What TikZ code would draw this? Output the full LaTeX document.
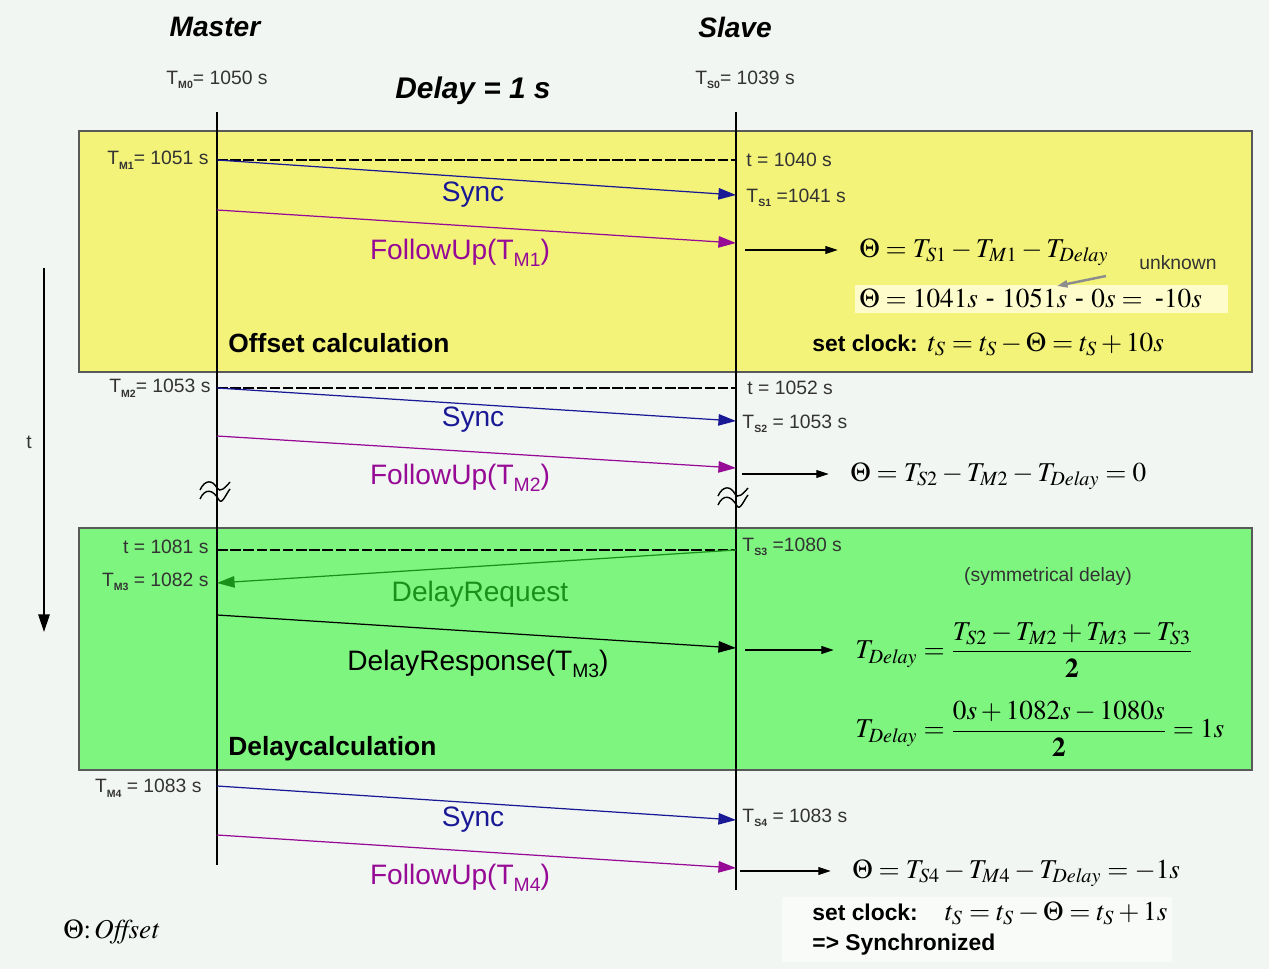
\documentclass[tikz,border=0pt]{standalone}
\usepackage{amsmath}
\usepackage{mathptmx}
\usepackage[no-math]{fontspec}
\setmainfont{Liberation Sans}
\usepackage{tikz}
\usetikzlibrary{arrows.meta,positioning}
\definecolor{bgcol}{RGB}{242,246,242}
\definecolor{offsetbox}{RGB}{243,243,122}
\definecolor{delaybox}{RGB}{126,245,126}
\definecolor{syncblue}{RGB}{25,25,150}
\definecolor{followmag}{RGB}{150,10,150}
\definecolor{reqgreen}{RGB}{25,145,25}
\newcommand{\lsub}[1]{\raisebox{-0.45ex}{\fontsize{6}{6}\selectfont\bfseries #1}}
\newcommand{\msub}[1]{\raisebox{-0.5ex}{\fontsize{11}{11}\selectfont #1}}
\newcommand{\dly}{\mathit{Delay}}

\begin{document}
\begin{tikzpicture}[x=0.02cm, y=-0.02cm, thick]
    % Styles
    \tikzstyle{lbl}=[font=\fontsize{11}{13}\selectfont, text=black!80, inner sep=1pt]
    \tikzstyle{title}=[font=\fontsize{16}{18}\selectfont\bfseries\itshape]
    \tikzstyle{msg}=[font=\fontsize{16}{18}\selectfont, inner sep=1pt]
    \tikzstyle{phase}=[font=\fontsize{15}{17}\selectfont\bfseries, anchor=west, inner sep=1pt]
    \tikzstyle{eq}=[font=\fontsize{15.5}{17}\selectfont, anchor=west, inner sep=1pt]
    \tikzstyle{box}=[draw=black!65, line width=0.9pt]
    \tikzstyle{life}=[line width=0.7pt]
    \tikzstyle{tick}=[dash pattern=on 6pt off 1.5pt, line width=1.1pt]
    \tikzstyle{msgarrow}=[-{Triangle[length=10pt,width=6.5pt]}, line width=0.7pt]
    \tikzstyle{res}=[-{Triangle[length=7pt,width=4.5pt]}, line width=0.6pt]
    \tikzstyle{brk}=[line width=0.8pt]

    \useasboundingbox (0,0) rectangle (1269,969);
    \fill[bgcol] (0,0) rectangle (1269,969);

    % Phase boxes
    \draw[box, fill=offsetbox] (79,131) rectangle (1252,372);
    \draw[box, fill=delaybox] (79,528) rectangle (1252,770);
    \fill[yellow!20!white] (855,285) rectangle (1228,313);
    \fill[white!55!bgcol] (782,897) rectangle (1172,962);

    % Titles
    \node[title] (master) at (215,27) {Master};
    \node[title] (slave) at (735,27) {Slave};
    \node[title, font=\fontsize{17}{19}\selectfont\bfseries\itshape] (delay) at (473,91) {Delay = 1 s};
    \node[lbl] (tm0) at (217,80) {T\lsub{M0}= 1050 s};
    \node[lbl] (ts0) at (745,80) {T\lsub{S0}= 1039 s};

    % Lifelines
    \coordinate (mtop) at (217,112);
    \coordinate (mbot) at (217,865);
    \coordinate (stop) at (736,112);
    \coordinate (sbot) at (736,890);
    \draw[life] (mtop) -- (mbot);
    \draw[life] (stop) -- (sbot);

    % Time axis
    \coordinate (ttop) at (44,268);
    \coordinate (tbot) at (44,632);
    \draw[-{Triangle[length=10pt,width=6.5pt]}, line width=0.7pt] (ttop) -- (tbot);
    \node[lbl] (tlbl) at (29,442) {t};

    % Breaks
    \foreach \bx/\by in {217/496, 735/502} {
        \draw[brk] (\bx-17,\by-6) .. controls (\bx-12,\by-17) and (\bx-4,\by-16) .. (\bx,\by-8) .. controls (\bx+3,\by-3) and (\bx+8,\by-8) .. (\bx+13,\by-14);
        \draw[brk] (\bx-17,\by+3) .. controls (\bx-12,\by-8) and (\bx-4,\by-7) .. (\bx+2,\by+4) .. controls (\bx+5,\by+9) and (\bx+9,\by-2) .. (\bx+13,\by-7);
    }

    % Offset calculation
    \coordinate (m1) at (217,160);
    \coordinate (s1a) at (736,160);
    \coordinate (s1) at (736,195);
    \coordinate (m1f) at (217,210);
    \coordinate (s1f) at (736,243);
    \coordinate (r1) at (745,250);
    \node[lbl, anchor=east] (tm1) at (211,160) {T\lsub{M1}= 1051 s};
    \node[lbl, anchor=west] (t1) at (744,160) {t = 1040 s};
    \node[lbl, anchor=west] (ts1) at (744,198) {T\lsub{S1} =1041 s};
    \node[msg, text=syncblue] (sync1) at (473,195) {Sync};
    \node[msg, text=followmag] (fup1) at (460,253) {FollowUp(T\msub{M1})};
    \node[eq] (off1) at (857,252) {$\Theta = T_{S1} - T_{M1} - T_{\dly}$};
    \node[lbl] (unk) at (1178,263) {unknown};
    \coordinate (u0) at (1106,276);
    \coordinate (u1) at (1057,286);
    \node[eq] (off1v) at (857,298) {$\Theta = 1041s$ - $1051s$ - $0s =$\, -$10s$};
    \node[eq, anchor=west] (clk1) at (810,344) {{\fontsize{13}{15}\selectfont\bfseries set clock:} $t_S = t_S - \Theta = t_S + 10s$};
    \node[phase] (offcalc) at (226,343) {Offset calculation};
    \draw[tick] (m1) -- (s1a);
    \draw[msgarrow, syncblue] (m1) -- (s1);
    \draw[msgarrow, followmag] (m1f) -- (s1f);
    \draw[res] (r1) -- ([xshift=-11pt]r1 -| off1.west);
    \draw[-{Triangle[length=6pt,width=4pt]}, line width=1.4pt, black!45] (u0) -- (u1);

    % Second sync
    \coordinate (m2) at (217,388);
    \coordinate (s2a) at (736,388);
    \coordinate (s2) at (736,421);
    \coordinate (m2f) at (217,436);
    \coordinate (s2f) at (736,468);
    \coordinate (r2) at (742,474);
    \node[lbl, anchor=east] (tm2) at (213,388) {T\lsub{M2}= 1053 s};
    \node[lbl, anchor=west] (t2) at (745,388) {t = 1052 s};
    \node[lbl, anchor=west] (ts2) at (740,424) {T\lsub{S2} = 1053 s};
    \node[msg, text=syncblue] (sync2) at (473,420) {Sync};
    \node[msg, text=followmag] (fup2) at (460,478) {FollowUp(T\msub{M2})};
    \node[eq] (off2) at (848,476) {$\Theta = T_{S2} - T_{M2} - T_{\dly} = 0$};
    \draw[tick] (m2) -- (s2a);
    \draw[msgarrow, syncblue] (m2) -- (s2);
    \draw[msgarrow, followmag] (m2f) -- (s2f);
    \draw[res] (r2) -- ([xshift=-11pt]r2 -| off2.west);

    % Delay calculation
    \coordinate (m3a) at (217,550);
    \coordinate (s3) at (736,550);
    \coordinate (m3) at (217,583);
    \coordinate (m3r) at (217,615);
    \coordinate (s3r) at (736,648);
    \coordinate (r3) at (745,650);
    \node[lbl, anchor=east] (t3) at (211,547) {t = 1081 s};
    \node[lbl, anchor=east] (tm3) at (211,582) {T\lsub{M3} = 1082 s};
    \node[lbl, anchor=west] (ts3) at (740,547) {T\lsub{S3} =1080 s};
    \node[msg, text=reqgreen] (dreq) at (480,594) {DelayRequest};
    \node[msg] (dresp) at (478,664) {DelayResponse(T\msub{M3})};
    \node[lbl] (sym) at (1048,577) {(symmetrical delay)};
    \node[eq] (dly1) at (853,650) {$T_{\dly} = \dfrac{T_{S2} - T_{M2} + T_{M3} - T_{S3}}{\mathbf{2}}$};
    \node[eq] (dly2) at (853,729) {$T_{\dly} = \dfrac{0s + 1082s - 1080s}{\mathbf{2}} = 1s$};
    \node[phase] (dlycalc) at (226,749) {Delaycalculation};
    \draw[tick] (m3a) -- (s3);
    \draw[msgarrow, reqgreen] (s3) -- (m3);
    \draw[msgarrow] (m3r) -- (s3r);
    \draw[res] (r3) -- ([xshift=-11pt]r3 -| dly1.west);

    % Synchronized
    \coordinate (m4) at (217,786);
    \coordinate (s4) at (736,820);
    \coordinate (m4f) at (217,835);
    \coordinate (s4f) at (736,868);
    \coordinate (r4) at (740,871);
    \node[lbl, anchor=east] (tm4) at (204,788) {T\lsub{M4} = 1083 s};
    \node[lbl, anchor=west] (ts4) at (740,818) {T\lsub{S4} = 1083 s};
    \node[msg, text=syncblue] (sync4) at (473,820) {Sync};
    \node[msg, text=followmag] (fup4) at (460,878) {FollowUp(T\msub{M4})};
    \node[eq] (off4) at (850,873) {$\Theta = T_{S4} - T_{M4} - T_{\dly} = -1s$};
    \node[eq] (clk4) at (810,913) {{\fontsize{13}{15}\selectfont\bfseries set clock:}\quad $t_S = t_S - \Theta = t_S + 1s$};
    \node[eq, font=\fontsize{13}{15}\selectfont\bfseries] (sync) at (810,945) {=> Synchronized};
    \node[eq] (legend) at (61,932) {$\Theta{:}\,\mathit{Offset}$};
    \draw[msgarrow, syncblue] (m4) -- (s4);
    \draw[msgarrow, followmag] (m4f) -- (s4f);
    \draw[res] (r4) -- ([xshift=-11pt]r4 -| off4.west);

\end{tikzpicture}
\end{document}
